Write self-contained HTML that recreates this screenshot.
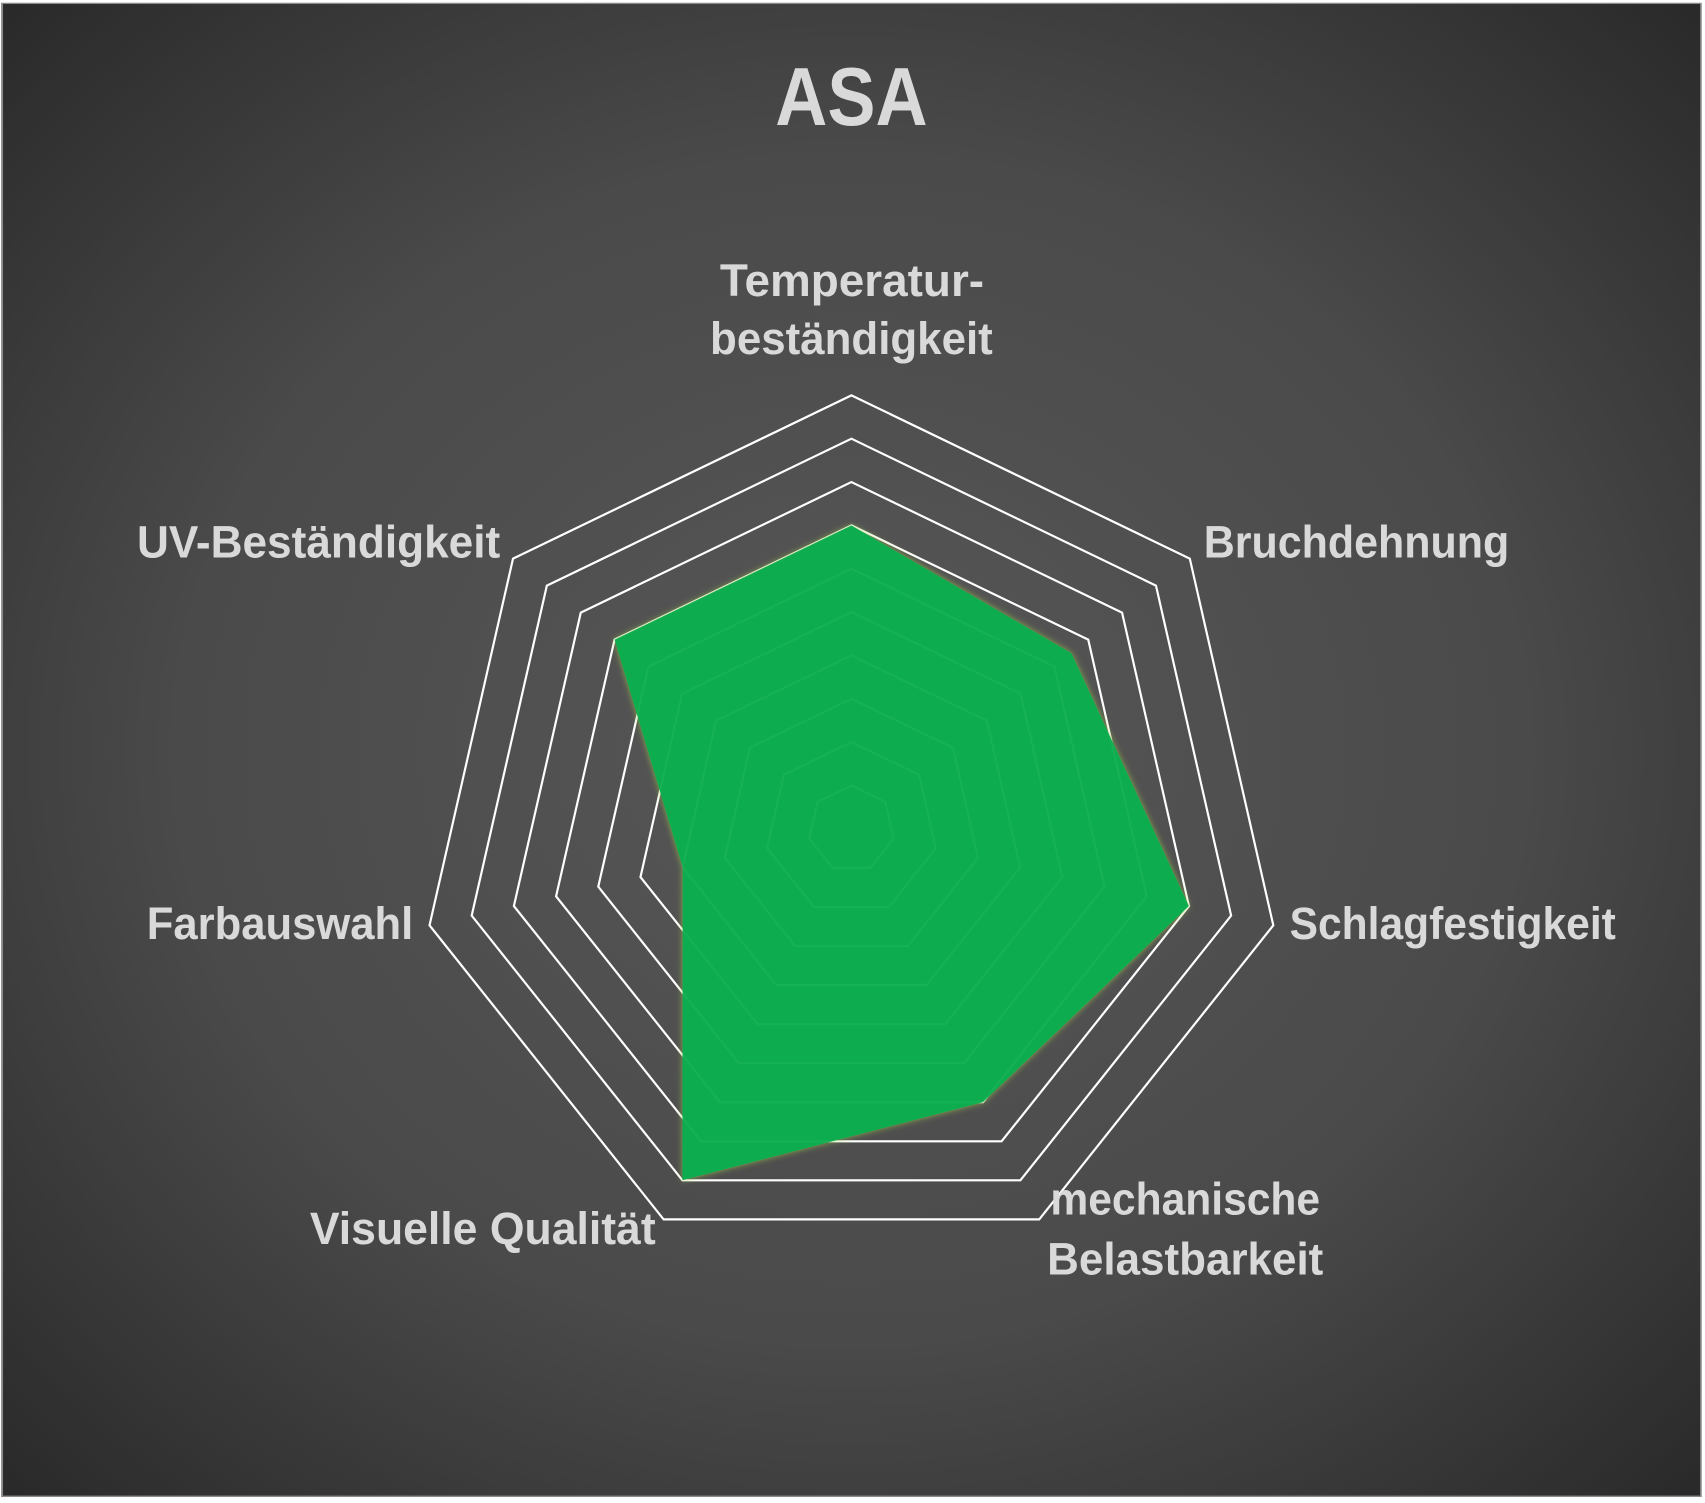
<!DOCTYPE html>
<html><head><meta charset="utf-8"><style>
html,body{margin:0;padding:0;background:#fff;width:1705px;height:1503px;overflow:hidden}
svg{display:block}
text{font-family:"Liberation Sans",sans-serif;font-weight:bold;fill:#d9d9d9}
</style></head><body>
<svg width="1705" height="1503" viewBox="0 0 1568 1380" preserveAspectRatio="none">
<defs>
<radialGradient id="bg" cx="50%" cy="50%" r="72%">
<stop offset="0" stop-color="#575757"/>
<stop offset="0.55" stop-color="#4a4a4a"/>
<stop offset="1" stop-color="#282828"/>
</radialGradient>
<filter id="glow" x="-10%" y="-10%" width="120%" height="120%">
<feGaussianBlur in="SourceAlpha" stdDeviation="3" result="b"/>
<feFlood flood-color="#9fcf4a" flood-opacity="0.7"/>
<feComposite in2="b" operator="in" result="g"/>
<feMerge><feMergeNode in="g"/><feMergeNode in="SourceGraphic"/></feMerge>
</filter>
</defs>
<rect x="1" y="2.5" width="1564" height="1372" fill="#8a8a8a"/>
<rect x="2.8" y="3.7" width="1560.7" height="1369.5" fill="url(#bg)"/>
<g id="rings" fill="none" stroke="#ffffff" stroke-width="2"></g>
<polygon id="data" fill="#07ad4f" filter="url(#glow)"/>
<g id="inner" fill="none" stroke="#ffffff" stroke-opacity="0.04" stroke-width="2"></g>
<text x="783" y="115" text-anchor="middle" font-size="76" textLength="140" lengthAdjust="spacingAndGlyphs">ASA</text>
<text x="662" y="272" font-size="42" textLength="243" lengthAdjust="spacingAndGlyphs">Temperatur-</text>
<text x="653" y="325" font-size="42" textLength="260" lengthAdjust="spacingAndGlyphs">beständigkeit</text>
<text x="126" y="512" font-size="42" textLength="334" lengthAdjust="spacingAndGlyphs">UV-Beständigkeit</text>
<text x="1107" y="512" font-size="42" textLength="281" lengthAdjust="spacingAndGlyphs">Bruchdehnung</text>
<text x="1186" y="862" font-size="42" textLength="300" lengthAdjust="spacingAndGlyphs">Schlagfestigkeit</text>
<text x="135" y="862" font-size="42" textLength="245" lengthAdjust="spacingAndGlyphs">Farbauswahl</text>
<text x="285" y="1142" font-size="42" textLength="318" lengthAdjust="spacingAndGlyphs">Visuelle Qualität</text>
<text x="966" y="1115" font-size="42" textLength="248" lengthAdjust="spacingAndGlyphs">mechanische</text>
<text x="963" y="1170" font-size="42" textLength="254" lengthAdjust="spacingAndGlyphs">Belastbarkeit</text>
</svg>
<script>
(function(){
var cx=783,cy=761,ns="http://www.w3.org/2000/svg";
function pts(rs){var a=[];for(var k=0;k<7;k++){var t=(-90+k*360/7)*Math.PI/180;var r=rs[k];a.push((cx+r*Math.cos(t)).toFixed(1)+","+(cy+r*Math.sin(t)).toFixed(1));}return a.join(" ");}
var g=document.getElementById("rings"),gi=document.getElementById("inner");
for(var i=5;i<=10;i++){var p=document.createElementNS(ns,"polygon");var R=i*39.8;p.setAttribute("points",pts([R,R,R,R,R,R,R]));g.appendChild(p);}
for(var i=1;i<=10;i++){var p=document.createElementNS(ns,"polygon");var R=i*39.8;p.setAttribute("points",pts([R,R,R,R,R,R,R]));gi.appendChild(p);}
var v=[7,6.5,8,7,9,4,7].map(function(x){return x*39.8;});
document.getElementById("data").setAttribute("points",pts(v));
})();
</script>
</body></html>
